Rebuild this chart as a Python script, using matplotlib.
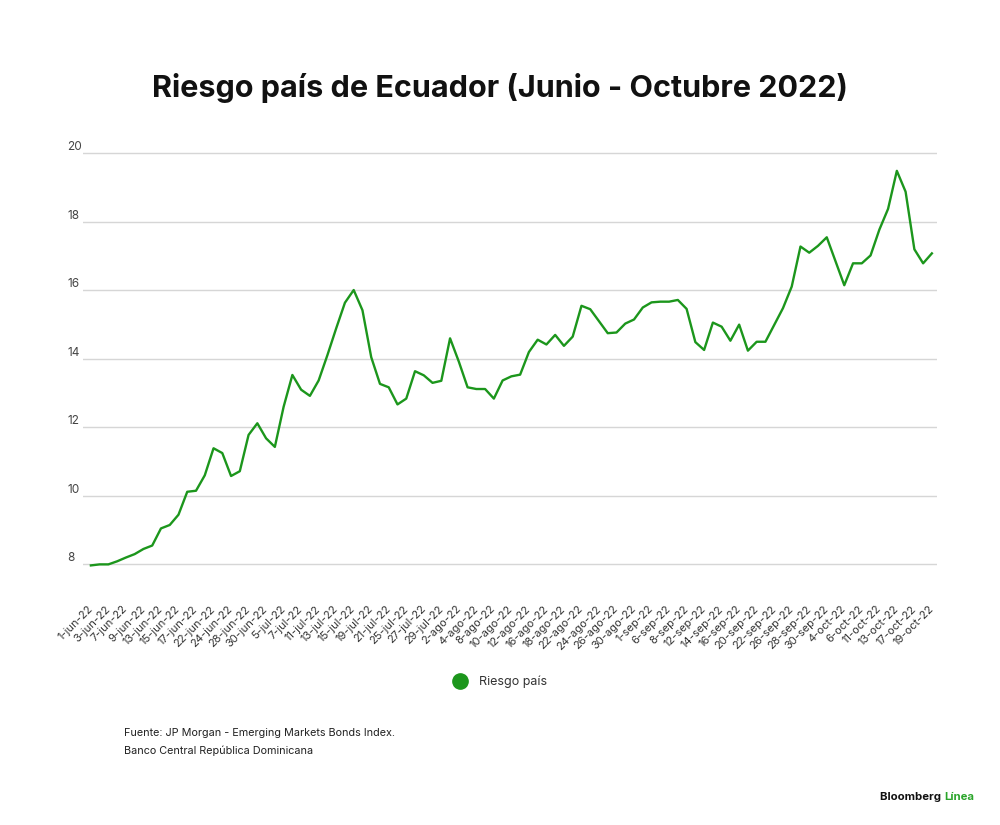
import matplotlib
matplotlib.use('Agg')
import matplotlib.pyplot as plt
from matplotlib.lines import Line2D

# riesgo pais, one value per trading day (1-jun-22 .. 19-oct-22)
riesgo = [7.97, 8.0, 8.0, 8.09, 8.2, 8.3, 8.45, 8.55, 9.05, 9.15,
          9.45, 10.12, 10.15, 10.6, 11.39, 11.25, 10.58, 10.72, 11.78, 12.12,
          11.68, 11.43, 12.6, 13.53, 13.1, 12.92, 13.37, 14.11, 14.89, 15.64,
          16.01, 15.42, 14.05, 13.27, 13.17, 12.67, 12.84, 13.64, 13.52, 13.3,
          13.36, 14.6, 13.92, 13.17, 13.12, 13.12, 12.84, 13.37, 13.49, 13.54,
          14.2, 14.56, 14.42, 14.7, 14.38, 14.65, 15.55, 15.45, 15.1, 14.75,
          14.77, 15.03, 15.15, 15.5, 15.65, 15.67, 15.67, 15.72, 15.46, 14.49,
          14.26, 15.06, 14.94, 14.53, 15.0, 14.24, 14.5, 14.5, 14.99, 15.48,
          16.11, 17.28, 17.1, 17.3, 17.55, 16.85, 16.15, 16.79, 16.79, 17.02,
          17.77, 18.38, 19.49, 18.88, 17.2, 16.79, 17.08]

# etiquetas del eje x (una cada dos dias)
fechas = ['1-jun-22', '3-jun-22', '7-jun-22', '9-jun-22', '13-jun-22', '15-jun-22',
          '17-jun-22', '22-jun-22', '24-jun-22', '28-jun-22', '30-jun-22', '5-jul-22',
          '7-jul-22', '11-jul-22', '13-jul-22', '15-jul-22', '19-jul-22', '21-jul-22',
          '25-jul-22', '27-jul-22', '29-jul-22', '2-ago-22', '4-ago-22', '8-ago-22',
          '10-ago-22', '12-ago-22', '16-ago-22', '18-ago-22', '22-ago-22', '24-ago-22',
          '26-ago-22', '30-ago-22', '1-sep-22', '6-sep-22', '8-sep-22', '12-sep-22',
          '14-sep-22', '16-sep-22', '20-sep-22', '22-sep-22', '26-sep-22', '28-sep-22',
          '30-sep-22', '4-oct-22', '6-oct-22', '11-oct-22', '13-oct-22', '17-oct-22',
          '19-oct-22']

yticks = [8, 10, 12, 14, 16, 18, 20]

verde = '#1c961c'
plt.rcParams['font.family'] = ['Inter', 'DejaVu Sans']

fig = plt.figure(figsize=(10, 8.25), dpi=100)
ax = fig.add_axes([0.083, 0.3076, 0.8537, 0.5148])

x = list(range(len(riesgo)))
ax.plot(x, riesgo, color=verde, lw=1.7, label='Riesgo país')

ax.set_xlim(-0.9, len(riesgo) - 0.45)
ax.set_ylim(7.8, 20.2)
ax.set_yticks(yticks)
ax.set_yticklabels([str(v) for v in yticks])
ax.set_xticks(x[::2])
ax.set_xticklabels(fechas, rotation=45, ha='right', rotation_mode='anchor', va='center')

for s in ax.spines.values():
    s.set_visible(False)
ax.grid(axis='y', color='#d6d6d6', lw=1)
ax.set_axisbelow(True)
ax.tick_params(axis='x', length=0, pad=26, labelsize=8, labelcolor='#333333')
ax.tick_params(axis='y', length=0, pad=11.5, labelsize=8.5, labelcolor='#444444')
for lab in ax.get_yticklabels():
    lab.set_ha('left')
    lab.set_va('bottom')

fig.text(0.5, 1 - 88 / 825, 'Riesgo país de Ecuador (Junio - Octubre 2022)',
         ha='center', va='center', fontsize=22, fontweight='bold', color='#111111')

h = Line2D([], [], marker='o', color=verde, linestyle='None', markersize=11)
fig.legend(handles=[h], labels=['Riesgo país'], loc='center',
           bbox_to_anchor=(0.497, 1 - 682 / 825), frameon=False,
           handletextpad=0.5, fontsize=9, labelcolor='#333333')

fig.text(0.124, 1 - 733 / 825, 'Fuente: JP Morgan - Emerging Markets Bonds Index.',
         ha='left', va='center', fontsize=7.8, color='#222222')
fig.text(0.124, 1 - 751 / 825, 'Banco Central República Dominicana',
         ha='left', va='center', fontsize=7.8, color='#222222')

fig.text(0.944, 1 - 797 / 825, 'Bloomberg ', ha='right', va='center',
         fontsize=8.2, fontweight='bold', color='#111111')
fig.text(0.944, 1 - 797 / 825, 'Línea', ha='left', va='center',
         fontsize=8.2, fontweight='bold', color='#2aa52a')

fig.savefig('out.png', dpi=100, facecolor='white')
